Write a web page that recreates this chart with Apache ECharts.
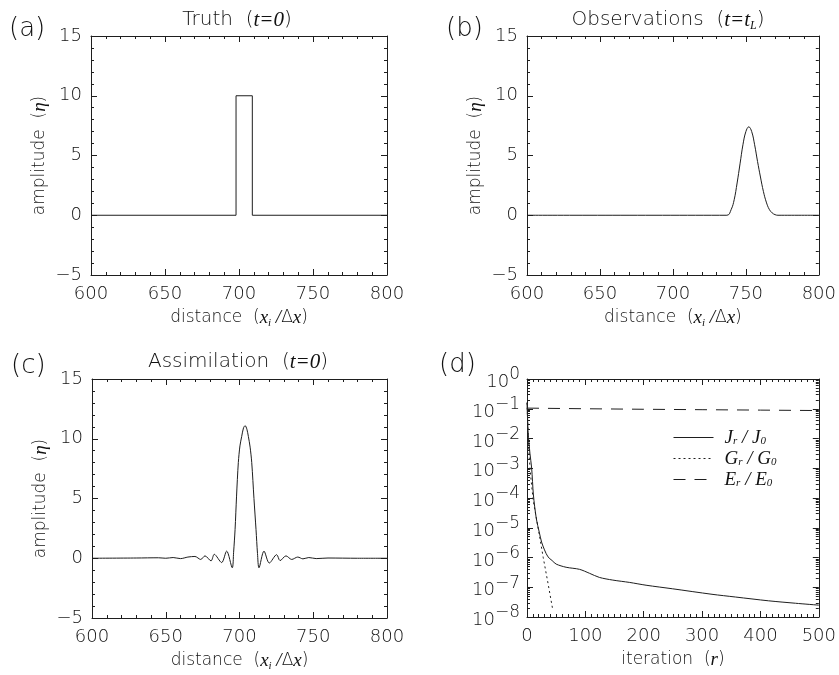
<!DOCTYPE html>
<html>
<head>
<meta charset="utf-8">
<script src="https://cdn.jsdelivr.net/npm/echarts@6/dist/echarts.min.js"></script>
<style>
  html, body { margin: 0; padding: 0; background: #fff; }
  #chart { width: 839px; height: 675px; }
</style>
</head>
<body>
<div id="chart"></div>
<script>
// (a) truth at t=0
const truthX = [600, 698, 698, 709, 709, 800];
const truthY = [0, 0, 10, 10, 0, 0];

// (b) observations at t=t_L
const obsX = [600, 737, 740, 742, 744, 746, 748, 750, 752, 754, 756, 758, 760, 762, 764, 766, 768, 770, 772, 800];
const obsY = [0, 0, 0.5, 1.3, 2.7, 4.3, 5.9, 7.0, 7.4, 7.0, 5.9, 4.5, 3.2, 2.0, 1.1, 0.5, 0.2, 0.05, 0, 0];

// (c) assimilation at t=0
const asmX = [600, 630, 645, 650, 655, 660, 665, 669.8, 673.7, 676.6, 680.7, 682.9, 687.9, 691.3, 695.1,
  696, 697, 698, 699.2, 700.3, 701.5, 702.7, 703.8, 705, 706, 707.2, 708.3, 709.8, 711.2, 712.2, 713.2,
  716.6, 720.2, 725.2, 727.5, 731.5, 735.4, 739.5, 743, 747, 752, 760, 780, 800];
const asmY = [0, 0.02, 0.04, 0, 0.06, -0.03, 0.1, 0.15, -0.1, 0.2, -0.22, 0.33, -0.36, 0.6, -0.8,
  0.5, 2.4, 5.2, 8.0, 9.4, 10.2, 10.9, 11.1, 10.8, 10.2, 9.3, 8.0, 5.0, 2.4, 0.4, -0.8,
  0.6, -0.4, 0.3, -0.2, 0.2, -0.1, 0.1, -0.05, 0.06, -0.03, 0.02, 0, 0];

// (d) convergence vs iteration
const jIter = [0, 2, 5, 8, 11, 16, 21, 25, 30, 36, 43, 50, 67, 90, 107, 124, 147, 176, 204, 249, 317, 357, 414, 460, 500];
const jVal = [1.6e-1, 1.6e-2, 3.2e-3, 1.0e-3, 1.26e-4, 2.0e-5, 7.1e-6, 3.3e-6, 1.8e-6, 1.05e-6, 7.9e-7, 6.0e-7,
  4.7e-7, 4.0e-7, 2.95e-7, 2.14e-7, 1.74e-7, 1.45e-7, 1.17e-7, 8.9e-8, 5.8e-8, 4.7e-8, 3.5e-8, 2.9e-8, 2.5e-8];
const gIter = [0, 2, 4, 7, 10.8, 19.3, 27.8, 36.3, 44];
const gVal = [1.6e-1, 1.26e-2, 2.0e-3, 4.0e-4, 7.9e-5, 9.3e-6, 1.0e-6, 1.26e-7, 1.8e-8];
const eIter = [0, 100, 200, 300, 400, 500];
const eVal = [0.105, 0.1, 0.096, 0.093, 0.09, 0.087];

const FONT = 'DejaVu Sans';
const FW = 200;
const SERIF = 'Liberation Serif';
const INK = '#1e1e1e';
const TXT = '#111';

const zip = (xs, ys) => xs.map((x, i) => [x, ys[i]]);
const minus = v => String(v).replace('-', '−');

const mathRich = {
  i: { fontFamily: SERIF, fontStyle: 'italic', fontSize: 19, color: TXT, lineHeight: 22, verticalAlign: 'middle' },
  u: { fontFamily: FONT, fontWeight: FW, fontSize: 17, color: TXT, lineHeight: 22, verticalAlign: 'middle' },
  s: { fontFamily: SERIF, fontStyle: 'italic', fontSize: 11, color: TXT, lineHeight: 12, verticalAlign: 'bottom' }
};

const grids = [
  { left: 91, top: 36, width: 296, height: 239 },
  { left: 527, top: 36, width: 292, height: 239 },
  { left: 92, top: 379, width: 295, height: 239 },
  { left: 527, top: 379, width: 294, height: 238 }
];

function tickStyle(show) {
  return {
    axisLine: { show: true, onZero: false, lineStyle: { color: INK, width: 1 } },
    axisTick: { show: true, inside: true, length: 6, lineStyle: { color: INK } },
    minorTick: { show: true, length: 3, lineStyle: { color: INK } },
    splitLine: { show: false },
    axisLabel: { show: show, color: TXT, fontSize: 18, fontFamily: FONT, fontWeight: FW, formatter: minus }
  };
}

function distAxes(gi) {
  const name = '{u|distance  (}{i|x}{s|i}{i| /}{u|Δ}{i|x}{u|)}';
  const bottom = Object.assign({
    type: 'value', gridIndex: gi, min: 600, max: 800, interval: 50, position: 'bottom',
    name: name, nameLocation: 'middle', nameGap: 32,
    nameTextStyle: { fontSize: 17, fontFamily: FONT, color: TXT, rich: mathRich }
  }, tickStyle(true));
  bottom.axisLabel.margin = 10;
  bottom.minorTick.splitNumber = 5;
  const top = Object.assign({
    type: 'value', gridIndex: gi, min: 600, max: 800, interval: 50, position: 'top'
  }, tickStyle(false));
  top.minorTick.splitNumber = 5;
  return [bottom, top];
}

function ampAxes(gi) {
  const left = Object.assign({
    type: 'value', gridIndex: gi, min: -5, max: 15, interval: 5, position: 'left',
    name: '{u|amplitude  (}{i|η}{u|)}', nameLocation: 'middle', nameGap: 40,
    nameTextStyle: { fontSize: 17, fontFamily: FONT, color: TXT, rich: mathRich }
  }, tickStyle(true));
  left.axisLabel.margin = 9;
  left.minorTick.splitNumber = 5;
  const right = Object.assign({
    type: 'value', gridIndex: gi, min: -5, max: 15, interval: 5, position: 'right'
  }, tickStyle(false));
  right.minorTick.splitNumber = 5;
  return [left, right];
}

const iterBottom = Object.assign({
  type: 'value', gridIndex: 3, min: 0, max: 500, interval: 100, position: 'bottom',
  name: '{u|iteration  (}{i|r}{u|)}', nameLocation: 'middle', nameGap: 32,
  nameTextStyle: { fontSize: 17, fontFamily: FONT, color: TXT, rich: mathRich }
}, tickStyle(true));
iterBottom.axisLabel.margin = 10;
iterBottom.minorTick.splitNumber = 10;
const iterTop = Object.assign({
  type: 'value', gridIndex: 3, min: 0, max: 500, interval: 100, position: 'top'
}, tickStyle(false));
iterTop.minorTick.splitNumber = 10;

const logLeft = Object.assign({
  type: 'log', logBase: 10, gridIndex: 3, min: 1e-8, max: 1, position: 'left', splitNumber: 8
}, tickStyle(true));
logLeft.axisLabel = {
  show: true, margin: 7, color: TXT, showMinLabel: true, showMaxLabel: true, hideOverlap: false,
  formatter: v => '{b|10}{e|' + minus(Math.round(Math.log10(v))) + '}',
  rich: {
    b: { fontFamily: FONT, fontWeight: FW, fontSize: 18, color: TXT, lineHeight: 25, verticalAlign: 'bottom' },
    e: { fontFamily: FONT, fontWeight: FW, fontSize: 17, color: TXT, lineHeight: 25, verticalAlign: 'top' }
  }
};
logLeft.minorTick.splitNumber = 9;
const logRight = Object.assign({
  type: 'log', logBase: 10, gridIndex: 3, min: 1e-8, max: 1, position: 'right', splitNumber: 8
}, tickStyle(false));
logRight.minorTick.splitNumber = 9;

const xa = distAxes(0), xb = distAxes(1), xc = distAxes(2);
const ya = ampAxes(0), yb = ampAxes(1), yc = ampAxes(2);

const lineBase = { type: 'line', symbol: 'none', lineStyle: { color: INK, width: 1 }, itemStyle: { color: INK }, animation: false };

const legendRich = {
  i: { fontFamily: SERIF, fontStyle: 'italic', fontSize: 19, color: TXT, lineHeight: 19, verticalAlign: 'middle' },
  s: { fontFamily: SERIF, fontStyle: 'italic', fontSize: 11, color: TXT, lineHeight: 10, verticalAlign: 'bottom' },
  p: { width: 6 }
};
const legendNames = {
  'J': '{p|}{i|J}{s|r}{i| / J}{s|0}',
  'G': '{p|}{i|G}{s|r}{i| / G}{s|0}',
  'E': '{p|}{i|E}{s|r}{i| / E}{s|0}'
};

const titleRich = {
  u: { fontSize: 20, fontFamily: FONT, fontWeight: FW, fill: TXT, lineHeight: 24, verticalAlign: 'middle' },
  i: { fontSize: 21, fontFamily: SERIF, fontStyle: 'italic', fill: TXT, lineHeight: 24, verticalAlign: 'middle' },
  s: { fontSize: 12, fontFamily: SERIF, fontStyle: 'italic', fill: TXT, lineHeight: 12, verticalAlign: 'bottom' }
};
const letter = (x, y, t) => ({ type: 'text', x: x, y: y,
  style: { text: t, fontSize: 26, fontFamily: FONT, fontWeight: FW, fill: TXT, verticalAlign: 'middle' } });
const heading = (x, y, t) => ({ type: 'text', x: x, y: y,
  style: { text: t, align: 'center', verticalAlign: 'middle', rich: titleRich } });

const option = {
  backgroundColor: '#fff',
  animation: false,
  grid: grids,
  xAxis: [xa[0], xa[1], xb[0], xb[1], xc[0], xc[1], iterBottom, iterTop],
  yAxis: [ya[0], ya[1], yb[0], yb[1], yc[0], yc[1], logLeft, logRight],
  legend: {
    orient: 'vertical', left: 673, top: 428, padding: 0, itemWidth: 40, itemHeight: 12, itemGap: 2,
    data: ['J', 'G', 'E'],
    itemStyle: { color: 'rgba(0,0,0,0)', borderWidth: 0 },
    lineStyle: { width: 1 },
    formatter: n => legendNames[n],
    textStyle: { rich: legendRich }
  },
  graphic: [
    letter(9, 29, '(a)'),
    letter(446, 29, '(b)'),
    letter(11, 366, '(c)'),
    letter(439, 365, '(d)'),
    heading(237, 20, '{u|Truth  (}{i|t=0}{u|)}'),
    heading(668, 20, '{u|Observations  (}{i|t=t}{s|L}{u|)}'),
    heading(238, 362, '{u|Assimilation  (}{i|t=0}{u|)}')
  ],
  series: [
    Object.assign({}, lineBase, { name: 'truth', xAxisIndex: 0, yAxisIndex: 0, data: zip(truthX, truthY) }),
    Object.assign({}, lineBase, { name: 'obs', xAxisIndex: 2, yAxisIndex: 2, smooth: 0.4, data: zip(obsX, obsY) }),
    Object.assign({}, lineBase, { name: 'asm', xAxisIndex: 4, yAxisIndex: 4, smooth: 0.3, data: zip(asmX, asmY) }),
    Object.assign({}, lineBase, { name: 'J', xAxisIndex: 6, yAxisIndex: 6, smooth: 0.3, data: zip(jIter, jVal) }),
    Object.assign({}, lineBase, { name: 'G', xAxisIndex: 6, yAxisIndex: 6, data: zip(gIter, gVal),
      lineStyle: { color: INK, width: 1, type: [2, 3] } }),
    Object.assign({}, lineBase, { name: 'E', xAxisIndex: 6, yAxisIndex: 6, data: zip(eIter, eVal),
      lineStyle: { color: INK, width: 1, type: [12, 9] } })
  ]
};

const chart = echarts.init(document.getElementById('chart'));
chart.setOption(option);
</script>
</body>
</html>
